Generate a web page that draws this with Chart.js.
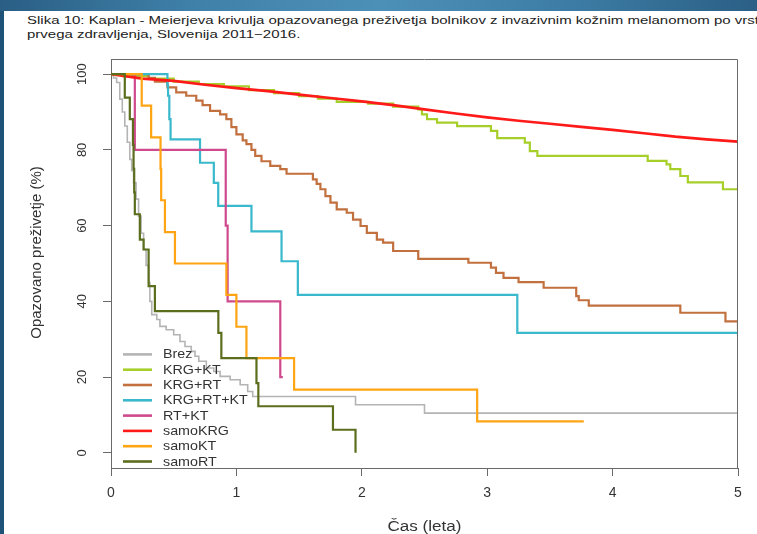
<!DOCTYPE html>
<html>
<head>
<meta charset="utf-8">
<script src="https://cdn.jsdelivr.net/npm/chart.js@4.4.1/dist/chart.umd.min.js"></script>
<style>
  html, body { margin: 0; padding: 0; }
  body { width: 757px; height: 534px; overflow: hidden; position: relative; background: #1f5277; }
  #band { position: absolute; left: 0; top: 0; width: 757px; height: 11px;
          background: linear-gradient(90deg, #2a5e85 0%, #3f80a8 25%, #4d90b7 50%, #3d7da5 75%, #2b5f86 100%); }
  #panel { position: absolute; left: 4px; top: 11px; width: 753px; height: 523px; background: #ffffff; }
  #title { position: absolute; left: 27px; top: 13px; white-space: nowrap;
           font-family: 'Liberation Sans', Arial, sans-serif; font-size: 11px; line-height: 14px; color: #222;
           transform: scaleX(1.362); transform-origin: 0 0; }
  #c { position: absolute; left: 0; top: 0; }
</style>
</head>
<body>
<div id="band"></div>
<div id="panel"></div>
<div id="title">Slika 10: Kaplan - Meierjeva krivulja opazovanega preživetja bolnikov z invazivnim kožnim melanomom po vrsti<br>prvega zdravljenja, Slovenija 2011−2016.</div>
<canvas id="c" width="757" height="534"></canvas>
<script>
// ---- data ----
const seriesNames = ['Brez', 'KRG+KT', 'KRG+RT', 'KRG+RT+KT', 'RT+KT', 'samoKRG', 'samoKT', 'samoRT'];
const seriesColors = ['#b4b4b4', '#a6cf2a', '#c1703e', '#3ab8cc', '#cf4a8c', '#ff1a1a', '#ffa412', '#5b6e1e'];
const xTickValues = [0, 1, 2, 3, 4, 5];
const yTickValues = [0, 20, 40, 60, 80, 100];
const xTitle = 'Čas (leta)';
const yTitle = 'Opazovano preživetje (%)';

const brezT = [0, 0.02, 0.045, 0.07, 0.09, 0.11, 0.13, 0.15, 0.165, 0.18, 0.2, 0.22, 0.24, 0.26, 0.28, 0.30, 0.31, 0.325, 0.365, 0.39, 0.44, 0.50, 0.55, 0.59, 0.64, 0.67, 0.70, 0.76, 0.82, 0.87, 0.95, 1.03, 1.09, 1.13, 1.95, 2.5, 5.0];
const brezS = [100, 99, 97.8, 93.4, 90, 86.3, 82, 77.5, 74.5, 71.3, 67, 62.5, 58, 53.7, 49.5, 45.0, 40, 36.5, 35.2, 33.4, 32.5, 31.2, 29.4, 28.1, 26.8, 25.5, 24.2, 22.4, 21.5, 20.2, 19.3, 18.0, 16.2, 14.9, 12.7, 10.5, 10.5];

const krgKtT = [0, 0.1, 0.3, 0.5, 0.7, 0.9, 1.1, 1.3, 1.5, 1.65, 1.8, 2.05, 2.25, 2.45, 2.48, 2.52, 2.6, 2.76, 3.03, 3.08, 3.3, 3.34, 3.4, 4.28, 4.43, 4.46, 4.54, 4.6, 4.88, 5.0];
const krgKtS = [100, 99.5, 98.8, 98.0, 97.4, 96.8, 95.8, 95.0, 94.2, 93.5, 92.7, 92.2, 91.4, 90.7, 89.4, 88.1, 87.2, 86.3, 85.0, 83.1, 81.9, 79.7, 78.4, 77.1, 76.2, 74.9, 73.1, 71.4, 69.6, 69.6];

const krgRtT = [0, 0.3, 0.35, 0.45, 0.52, 0.6, 0.68, 0.73, 0.79, 0.87, 0.92, 0.96, 1.0, 1.05, 1.08, 1.12, 1.15, 1.2, 1.27, 1.35, 1.4, 1.61, 1.64, 1.67, 1.71, 1.75, 1.8, 1.88, 1.93, 1.99, 2.04, 2.12, 2.17, 2.25, 2.45, 2.85, 3.03, 3.07, 3.13, 3.25, 3.45, 3.71, 3.73, 3.81, 4.54, 4.9, 5.0];
const krgRtS = [100, 99.0, 98.0, 96.5, 95.2, 94.3, 93.0, 91.8, 90.3, 89.4, 88.1, 86.0, 84.1, 82.5, 81.5, 80.0, 78.4, 77.0, 75.8, 74.9, 73.7, 72.2, 71.0, 69.6, 67.8, 66.1, 64.3, 63.4, 61.6, 59.9, 58.1, 56.3, 55.5, 53.3, 51.2, 50.2, 48.9, 47.5, 46.2, 45.1, 43.6, 41.4, 40.3, 38.9, 37.0, 34.7, 32.5];

const krgRtKtT = [0, 0.45, 0.455, 0.465, 0.475, 0.71, 0.82, 0.855, 1.12, 1.36, 1.49, 3.24, 5.0];
const krgRtKtS = [100, 97.0, 94.3, 88.1, 82.8, 76.6, 71.3, 65.2, 58.5, 50.6, 41.7, 31.7, 31.7];

const rtKtT = [0, 0.19, 0.915, 0.93, 1.35, 1.37];
const rtKtS = [100, 80, 60, 40, 20, 20];

const samoKrgT = [0, 0.25, 0.5, 0.75, 1.0, 1.25, 1.5, 1.75, 2.0, 2.25, 2.5, 2.75, 3.0, 3.25, 3.5, 3.75, 4.0, 4.25, 4.5, 4.75, 5.0];
const samoKrgS = [100, 98.8, 98.2, 97.2, 96.3, 95.5, 94.6, 93.7, 92.8, 91.8, 90.7, 89.6, 88.6, 87.7, 86.9, 86.1, 85.3, 84.4, 83.5, 82.8, 82.2];

const samoKtT = [0, 0.245, 0.32, 0.395, 0.40, 0.43, 0.51, 0.92, 1.0, 1.08, 1.46, 2.92, 3.77];
const samoKtS = [100, 91.7, 83.3, 75.0, 66.7, 58.3, 50.0, 41.7, 33.3, 25.0, 16.7, 8.3, 8.3];

const samoRtT = [0, 0.11, 0.15, 0.175, 0.18, 0.185, 0.19, 0.23, 0.26, 0.30, 0.35, 0.856, 0.88, 1.16, 1.175, 1.77, 1.95];
const samoRtS = [100, 93.8, 88.1, 81.3, 75.0, 68.8, 63.0, 56.3, 53.7, 44.0, 37.4, 31.7, 25.0, 18.4, 12.3, 6.1, 0];

const seriesTimes = [brezT, krgKtT, krgRtT, krgRtKtT, rtKtT, samoKrgT, samoKtT, samoRtT];
const seriesSurv = [brezS, krgKtS, krgRtS, krgRtKtS, rtKtS, samoKrgS, samoKtS, samoRtS];

// ---- build datasets ----
const datasets = seriesNames.map((name, i) => ({
  label: name,
  data: seriesTimes[i].map((t, k) => ({ x: t, y: seriesSurv[i][k] })),
  borderColor: seriesColors[i],
  backgroundColor: seriesColors[i],
  borderWidth: i === 0 ? 1.6 : (name === 'samoKRG' ? 2.7 : 2.2),
  pointRadius: 0,
  stepped: name === 'samoKRG' ? false : true,
  tension: 0,
  fill: false,
  order: seriesNames.length - i
}));

const TEXT = '#333333';
const AXIS = '#6a6a6a';
const FONT = "'Liberation Sans', Arial, sans-serif";

function stretchedText(ctx, text, x, y, sx, align, rot) {
  ctx.save();
  ctx.translate(x, y);
  if (rot) ctx.rotate(rot);
  ctx.scale(sx, 1);
  ctx.textAlign = align;
  ctx.textBaseline = 'middle';
  ctx.fillText(text, 0, 0);
  ctx.restore();
}

const framePlugin = {
  id: 'frame',
  afterDatasetsDraw(chart) {
    const { ctx, chartArea: a } = chart;
    ctx.save();
    ctx.strokeStyle = AXIS;
    ctx.lineWidth = 1;
    ctx.beginPath();
    ctx.moveTo(Math.round(a.left) + 0.5, Math.round(a.top) + 0.5);
    ctx.lineTo(Math.round(a.right) - 0.5, Math.round(a.top) + 0.5);
    ctx.lineTo(Math.round(a.right) - 0.5, Math.round(a.bottom) + 0.5);
    ctx.stroke();
    ctx.restore();
  }
};

const titlesPlugin = {
  id: 'axisTitles',
  afterDraw(chart) {
    const { ctx, chartArea: a } = chart;
    ctx.save();
    ctx.fillStyle = TEXT;
    ctx.font = '14px ' + FONT;
    stretchedText(ctx, xTitle, (a.left + a.right) / 2, a.bottom + 59, 1.22, 'center', 0);
    ctx.font = '15px ' + FONT;
    stretchedText(ctx, yTitle, a.left - 74, (a.top + a.bottom) / 2 - 11, 1.0, 'center', -Math.PI / 2);
    ctx.restore();
  }
};

const legendPlugin = {
  id: 'innerLegend',
  afterDatasetsDraw(chart) {
    const { ctx, chartArea: a } = chart;
    const ds = chart.data.datasets;
    const rowH = 15.3;
    const lastY = a.bottom - 6.5;
    const firstY = lastY - rowH * (ds.length - 1);
    const x0 = a.left + 12, x1 = a.left + 41, xt = a.left + 52;
    ctx.save();
    ctx.font = '13px ' + FONT;
    ds.forEach((d, i) => {
      const y = firstY + i * rowH;
      ctx.strokeStyle = d.borderColor;
      ctx.lineWidth = 2.6;
      ctx.beginPath();
      ctx.moveTo(x0, y);
      ctx.lineTo(x1, y);
      ctx.stroke();
      ctx.fillStyle = TEXT;
      stretchedText(ctx, d.label, xt, y + 0.5, 1.1, 'left', 0);
    });
    ctx.restore();
  }
};

new Chart(document.getElementById('c'), {
  type: 'line',
  data: { datasets },
  options: {
    responsive: false,
    animation: false,
    devicePixelRatio: 1,
    layout: { padding: { left: 0, top: 59, right: 19, bottom: 0 } },
    plugins: { legend: { display: false }, tooltip: { enabled: false }, title: { display: false } },
    scales: {
      x: {
        type: 'linear', min: 0, max: 5,
        afterBuildTicks: (s) => { s.ticks = xTickValues.map(v => ({ value: v })); },
        afterFit: (s) => { s.height = 66; },
        grid: { display: true, drawOnChartArea: false, drawTicks: true, tickLength: 8, color: AXIS, lineWidth: 1 },
        border: { display: true, color: AXIS, width: 1 },
        ticks: { color: TEXT, padding: 9, maxRotation: 0, font: { family: FONT, size: 14 },
                 callback: (v) => String(v) },
        title: { display: false }
      },
      y: {
        type: 'linear', min: -4, max: 104,
        afterBuildTicks: (s) => { s.ticks = yTickValues.map(v => ({ value: v })); },
        afterFit: (s) => { s.width = 111; },
        grid: { display: true, drawOnChartArea: false, drawTicks: true, tickLength: 8, color: AXIS, lineWidth: 1 },
        border: { display: true, color: AXIS, width: 1 },
        ticks: { color: TEXT, padding: 10, minRotation: 90, maxRotation: 90, crossAlign: 'center',
                 font: { family: FONT, size: 13 },
                 callback: (v) => String(v) },
        title: { display: false }
      }
    }
  },
  plugins: [framePlugin, legendPlugin, titlesPlugin]
});
</script>
</body>
</html>
